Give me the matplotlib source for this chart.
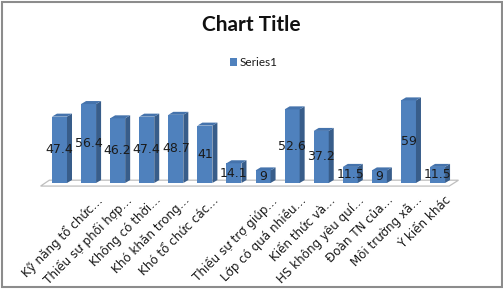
import matplotlib
matplotlib.use("Agg")
import matplotlib.pyplot as plt
import matplotlib.patches as mpatches

# dados
categorias = ["", "Kỹ năng tổ chức…", "Thiếu sự phối hợp…", "Không có thời…",
              "Khó khăn trong…", "Khó tổ chức các…", "", "Thiếu sự trợ giúp…",
              "Lớp có quá nhiều…", "Kiến thức và…", "HS không yêu quí…",
              "Đoàn TN của…", "Môi trường xã…", "Ý kiến khác"]
valores = [47.4, 56.4, 46.2, 47.4, 48.7, 41, 14.1, 9, 52.6, 37.2, 11.5, 9, 59, 11.5]
serie = "Series1"

COR_FRENTE = "#4F81BD"
COR_LADO   = "#385D8A"
COR_TOPO   = "#4573AC"
COR_BORDA  = "#8C8C8C"

W, H = 503, 289
fig = plt.figure(figsize=(W / 100, H / 100), dpi=100)
fig.patch.set_facecolor("white")

# moldura da área do gráfico
fig.add_artist(mpatches.Rectangle((2 / W, 2 / H), 500 / W, 285 / H,
                                  transform=fig.transFigure, fill=False,
                                  edgecolor=COR_BORDA, linewidth=1.5))

ax = fig.add_axes([38 / W, 100.4 / H, (465 - 38) / W, (204 - 100.4) / H])
ax.set_xlim(-0.739, 13.944)
ax.set_ylim(-4, 70)
ax.axis("off")

larg = 0.516
dx, dy = 0.172, 2.14   # profundidade 3D

# piso
ax.add_patch(mpatches.Polygon(
    [(-0.65, -2.2), (13.4, -2.2), (13.72, 2.0), (-0.35, 2.0)],
    closed=True, facecolor="white", edgecolor="#BFBFBF", linewidth=0.9,
    zorder=1))

for i, v in enumerate(valores):
    x0, x1 = i - larg / 2, i + larg / 2
    ax.bar(i, v, width=larg, color=COR_FRENTE, edgecolor="none", zorder=3)
    ax.add_patch(mpatches.Polygon(
        [(x1, 0), (x1 + dx, dy), (x1 + dx, v + dy), (x1, v)],
        closed=True, facecolor=COR_LADO, edgecolor="none", zorder=3))
    ax.add_patch(mpatches.Polygon(
        [(x0, v), (x1, v), (x1 + dx, v + dy), (x0 + dx, v + dy)],
        closed=True, facecolor=COR_TOPO, edgecolor="none", zorder=3))
    ax.text(i, v / 2, f"{v:g}", ha="center", va="center",
            fontsize=9, color="#1A1A1A", zorder=5)
    ax.text(i + 0.25, -7.5, categorias[i], rotation=45, rotation_mode="anchor",
            ha="right", va="top", fontsize=8.6, color="#1A1A1A")

# título e legenda
fig.text(251 / W, 1 - 25 / H, "Chart Title", ha="center", va="center",
         fontsize=15, fontweight="bold", family="Lato", color="#111111")
fig.add_artist(mpatches.Rectangle((230 / W, 1 - 65.5 / H), 7 / W, 7 / H,
                                  transform=fig.transFigure,
                                  facecolor=COR_FRENTE, edgecolor="none"))
fig.text(240 / W, 1 - 62 / H, serie, ha="left", va="center",
         fontsize=8.5, family="Lato", color="#1A1A1A")

fig.savefig("out.png", dpi=100, facecolor="white")
